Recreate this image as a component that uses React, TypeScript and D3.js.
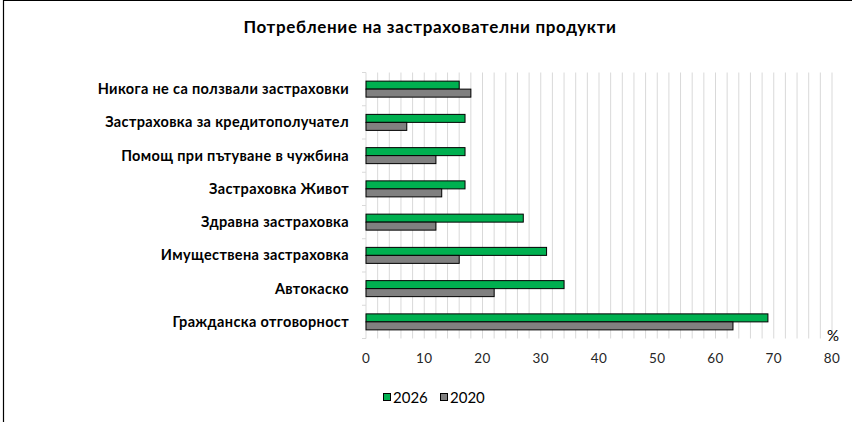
import React from "react";
import * as d3 from "d3";

const categories = [
  "Никога не са ползвали застраховки",
  "Застраховка за кредитополучател",
  "Помощ при пътуване в чужбина",
  "Застраховка Живот",
  "Здравна застраховка",
  "Имуществена застраховка",
  "Автокаско",
  "Гражданска отговорност",
];
const series2026 = [16, 17, 17, 17, 27, 31, 34, 69];
const series2020 = [18, 7, 12, 13, 12, 16, 22, 63];
const seriesNames = ["2026", "2020"];
const xTicks = [0, 10, 20, 30, 40, 50, 60, 70, 80];
const title = "Потребление на застрахователни продукти";

const W = 852;
const H = 422;
const FONT = "Lato, 'Open Sans', sans-serif";
const GREEN = "#00B050";
const GRAY = "#808080";

export default function App() {
  const left = 366;
  const right = 832;
  const top = 72.5;
  const bottom = 338.5;
  const x = d3.scaleLinear().domain([0, 80]).range([left, right]);
  const y = d3.scaleBand<string>().domain(categories).range([top, bottom]).paddingInner(0).paddingOuter(0);
  const barH = 8;
  const grid = d3.range(0, 81, 2);
  const colors = [GREEN, GRAY];
  const data = [series2026, series2020];

  return (
    <svg width={W} height={H} style={{ position: "absolute", left: 0, top: 0, background: "#fff" }} fontFamily={FONT}>
      <rect x={0} y={0} width={W} height={H} fill="#fff" />
      <path d={`M3.5,${H} V0.5 H${W}`} fill="none" stroke="#000" strokeWidth={1.2} />
      <text x={430} y={33} textAnchor="middle" fontSize={17} fontWeight={700} letterSpacing={0.65} fill="#000">
        {title}
      </text>
      {grid.map((g) => (
        <line key={g} x1={x(g)} x2={x(g)} y1={top} y2={bottom} stroke="#D9D9D9" strokeWidth={1} />
      ))}
      {d3.range(0, categories.length + 1).map((i) => {
        const yy = top + i * y.step();
        return <line key={i} x1={left - 4} x2={left} y1={yy} y2={yy} stroke="#D9D9D9" strokeWidth={1} />;
      })}
      {categories.map((c, i) => {
        const cy = (y(c) as number) + y.bandwidth() / 2;
        return (
          <g key={c}>
            {data.map((s, k) => (
              <rect
                key={k}
                x={x(0)}
                y={cy - barH + k * barH}
                width={x(s[i]) - x(0)}
                height={barH}
                fill={colors[k]}
                stroke="#000"
                strokeWidth={1}
              />
            ))}
            <text x={349} y={cy} dy="0.35em" textAnchor="end" fontSize={14.5} fontWeight={700} letterSpacing={0.35} fill="#000">
              {c}
            </text>
          </g>
        );
      })}
      {xTicks.map((t) => (
        <text key={t} x={x(t)} y={363} textAnchor="middle" fontSize={13.5} letterSpacing={0.3} fill="#262626">
          {t}
        </text>
      ))}
      <text x={833} y={341} textAnchor="middle" fontSize={15} fill="#000">
        %
      </text>
      {seriesNames.map((n, k) => {
        const lx = 383 + k * 57;
        return (
          <g key={n}>
            <rect x={lx + 0.5} y={393.5} width={7} height={7} fill={colors[k]} stroke="#000" strokeWidth={1} />
            <text x={lx + 10} y={403} fontSize={15} fill="#000">
              {n}
            </text>
          </g>
        );
      })}
    </svg>
  );
}
